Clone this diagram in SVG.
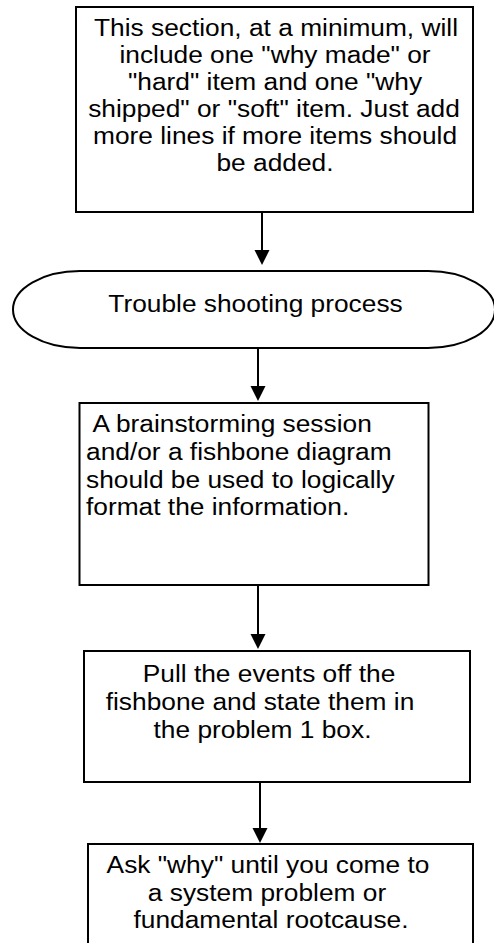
<svg xmlns="http://www.w3.org/2000/svg" width="494" height="943" viewBox="0 0 494 943">
<style>
.box{fill:#fff;stroke:#000;stroke-width:2}
.t{font-family:"Liberation Sans",Arial,sans-serif;font-size:23.5px;fill:#000}
.c{text-anchor:middle}
.conn{stroke:#000;stroke-width:2;fill:none}
.head{fill:#000}
</style>
<rect width="494" height="943" fill="#fff"/>
<g id="connectors">
<line class="conn" x1="262" y1="212" x2="262" y2="252"/>
<path class="head" d="M254.5,250 L269.5,250 L262,265 Z"/>
<line class="conn" x1="258" y1="348" x2="258" y2="388"/>
<path class="head" d="M250.5,386 L265.5,386 L258,401 Z"/>
<line class="conn" x1="258" y1="586" x2="258" y2="636"/>
<path class="head" d="M250.5,634 L265.5,634 L258,649 Z"/>
<line class="conn" x1="260" y1="782" x2="260" y2="830"/>
<path class="head" d="M252.5,828 L267.5,828 L260,843 Z"/>
</g>
<g id="node1">
<rect class="box" x="76" y="7" width="397" height="205"/>
<text class="t c" transform="translate(276,36) scale(1.12,1)">This section, at a minimum, will</text>
<text class="t c" transform="translate(275,63) scale(1.12,1)">include one "why made" or</text>
<text class="t c" transform="translate(275,90) scale(1.12,1)">"hard" item and one "why</text>
<text class="t c" transform="translate(274,117) scale(1.12,1)">shipped" or "soft" item. Just add</text>
<text class="t c" transform="translate(275,144) scale(1.12,1)">more lines if more items should</text>
<text class="t c" transform="translate(275,171) scale(1.12,1)">be added.</text>
</g>
<g id="node2">
<path class="box" d="M80,271 L428,271 A67,38.5 0 0 1 428,348 L80,348 A67,38.5 0 0 1 80,271 Z"/>
<text class="t c" transform="translate(255.5,312) scale(1.12,1)">Trouble shooting process</text>
</g>
<g id="node3">
<rect class="box" x="79.5" y="403" width="349" height="182"/>
<text class="t" transform="translate(92.5,432) scale(1.12,1)">A brainstorming session</text>
<text class="t" transform="translate(86,460) scale(1.12,1)">and/or a fishbone diagram</text>
<text class="t" transform="translate(86,488) scale(1.12,1)">should be used to logically</text>
<text class="t" transform="translate(86,515) scale(1.12,1)">format the information.</text>
</g>
<g id="node4">
<rect class="box" x="84" y="651" width="386" height="131"/>
<text class="t c" transform="translate(269,682) scale(1.12,1)">Pull the events off the</text>
<text class="t c" transform="translate(260,710) scale(1.12,1)">fishbone and state them in</text>
<text class="t c" transform="translate(262.5,738) scale(1.12,1)">the problem 1 box.</text>
</g>
<g id="node5">
<rect class="box" x="88" y="844" width="385" height="110"/>
<text class="t c" transform="translate(268,873) scale(1.12,1)">Ask "why" until you come to</text>
<text class="t c" transform="translate(267,901) scale(1.12,1)">a system problem or</text>
<text class="t c" transform="translate(271,928) scale(1.12,1)">fundamental rootcause.</text>
</g>
</svg>
